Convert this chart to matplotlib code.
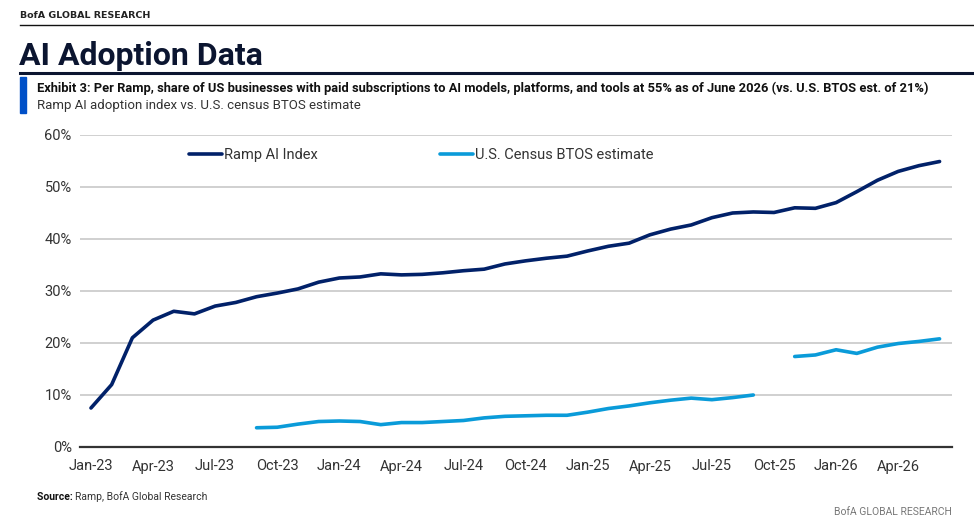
"""
AI Adoption Data - Ramp AI index vs U.S. Census BTOS estimate
"""

import matplotlib.pyplot as plt
import numpy as np

plt.rcParams.update({
    'font.family': ['Roboto', 'DejaVu Sans'],
    'font.size': 10,
})

# monthly, Jan-23 .. Jun-26
months = ['Jan-23', 'Feb-23', 'Mar-23', 'Apr-23', 'May-23', 'Jun-23', 'Jul-23', 'Aug-23', 'Sep-23',
          'Oct-23', 'Nov-23', 'Dec-23', 'Jan-24', 'Feb-24', 'Mar-24', 'Apr-24', 'May-24', 'Jun-24',
          'Jul-24', 'Aug-24', 'Sep-24', 'Oct-24', 'Nov-24', 'Dec-24', 'Jan-25', 'Feb-25', 'Mar-25',
          'Apr-25', 'May-25', 'Jun-25', 'Jul-25', 'Aug-25', 'Sep-25', 'Oct-25', 'Nov-25', 'Dec-25',
          'Jan-26', 'Feb-26', 'Mar-26', 'Apr-26', 'May-26', 'Jun-26']

ramp = [7.5, 12.0, 21.0, 24.4, 26.1, 25.6, 27.1, 27.8, 28.9, 29.6, 30.4, 31.7,
        32.5, 32.7, 33.3, 33.1, 33.2, 33.5, 33.9, 34.2, 35.2, 35.8, 36.3, 36.7,
        37.7, 38.6, 39.2, 40.8, 41.9, 42.7, 44.1, 45.0, 45.2, 45.1, 46.0, 45.9,
        47.0, 49.1, 51.3, 53.0, 54.1, 54.9]

nan = np.nan
btos = [nan, nan, nan, nan, nan, nan, nan, nan, 3.7, 3.8, 4.4, 4.9,
        5.0, 4.9, 4.3, 4.7, 4.7, 4.9, 5.1, 5.6, 5.9, 6.0, 6.1, 6.1,
        6.7, 7.4, 7.9, 8.5, 9.0, 9.4, 9.1, 9.5, 10.0, nan, 17.4, 17.7,
        18.7, 18.0, 19.2, 19.9, 20.3, 20.8]

navy = '#012169'
light = '#0A9BD9'

fig = plt.figure(figsize=(9.74, 5.28), dpi=100)
ax = fig.add_axes([80/974, 1 - 447/528, 872/974, 312/528])

x = np.arange(len(months))
ax.plot(x, ramp, color=navy, linewidth=2.6, label='Ramp AI Index', solid_capstyle='round')
ax.plot(x, np.array(btos, dtype=float), color=light, linewidth=2.6,
        label='U.S. Census BTOS estimate', solid_capstyle='round')

ax.set_ylim(0, 60)
ax.set_xlim(-0.53, 41.6)
ax.set_yticks(np.arange(0, 61, 10))
ax.set_yticklabels([f'{v}%' for v in range(0, 61, 10)])
ax.set_xticks(x[::3])
ax.set_xticklabels(months[::3])
ax.tick_params(axis='both', length=0, labelsize=10.5, colors='#333333', pad=6)
ax.tick_params(axis='x', pad=9)

ax.grid(axis='y', color='#c8c8c8', linewidth=1.2)
ax.grid(axis='x', visible=False)
ax.set_axisbelow(True)
for s in ['top', 'right', 'left']:
    ax.spines[s].set_visible(False)
ax.spines['bottom'].set_color('#333333')
ax.spines['bottom'].set_linewidth(1.6)

leg = ax.legend(loc='upper left', bbox_to_anchor=(0.11, 1.0), ncol=2, frameon=False,
                fontsize=10.5, handlelength=2.25, handletextpad=0.15, columnspacing=8.4)
for t in leg.get_texts():
    t.set_color('#333333')

# header
fig.text(20/974, 1 - 15/528, 'BofA GLOBAL RESEARCH', fontsize=6.8, fontweight='bold',
         color='#222222', va='center', family=['DejaVu Sans'])
fig.add_artist(plt.Line2D([20/974, 1], [1 - 25/528] * 2, color='#111111', linewidth=1))
fig.text(19/974, 1 - 56/528, 'AI Adoption Data', fontsize=23, fontweight='bold',
         color='#0b1530', va='center')
fig.add_artist(plt.Line2D([20/974, 1], [1 - 73/528] * 2, color='#0b1530', linewidth=2.2))
fig.add_artist(plt.Rectangle((20/974, 1 - 113/528), 6/974, 36/528, color='#0050C8',
                             transform=fig.transFigure))
fig.text(37/974, 1 - 88/528,
         'Exhibit 3: Per Ramp, share of US businesses with paid subscriptions to AI models, '
         'platforms, and tools at 55% as of June 2026 (vs. U.S. BTOS est. of 21%)',
         fontsize=9.3, fontweight='bold', color='#111111', va='center')
fig.text(37/974, 1 - 105/528, 'Ramp AI adoption index vs. U.S. census BTOS estimate',
         fontsize=9.5, color='#333333', va='center')

# footer
src = fig.text(37/974, 1 - 497/528, 'Source: ', fontsize=7.5, fontweight='bold',
               color='#111111', va='center')
fig.canvas.draw()
bb = src.get_window_extent(fig.canvas.get_renderer())
fig.text(bb.x1 / fig.bbox.width, 1 - 497/528, 'Ramp, BofA Global Research', fontsize=7.5,
         color='#333333', va='center')
fig.text(952/974, 1 - 512/528, 'BofA GLOBAL RESEARCH', fontsize=7.5, color='#777777',
         va='center', ha='right')

fig.savefig('out.png', dpi=100, facecolor='white')
plt.close()
